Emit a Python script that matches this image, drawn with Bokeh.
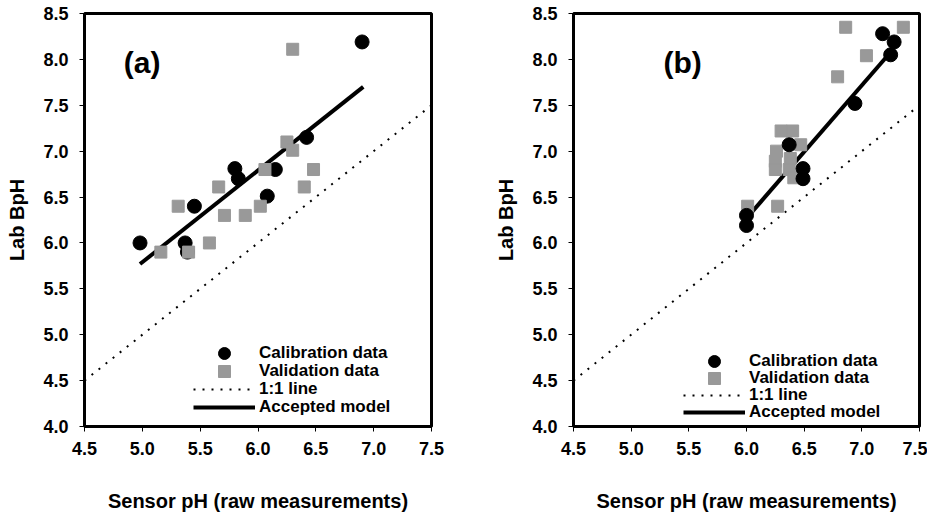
from bokeh.plotting import figure
from bokeh.layouts import row
from bokeh.models import FixedTicker, Legend, LegendItem, Label, Range1d, PrintfTickFormatter
from bokeh.embed import file_html
from bokeh.resources import INLINE

FONT = "Liberation Sans"

# ---- data ----
x_ticks = [4.5, 5.0, 5.5, 6.0, 6.5, 7.0, 7.5]
y_ticks = [4.0, 4.5, 5.0, 5.5, 6.0, 6.5, 7.0, 7.5, 8.0, 8.5]

one_x = [4.5, 7.5]
one_y = [4.5, 7.5]

# panel (a)
a_cal_x = [4.98, 5.37, 5.39, 5.45, 5.80, 5.83, 6.15, 6.08, 6.42, 6.90]
a_cal_y = [6.00, 6.00, 5.90, 6.40, 6.81, 6.70, 6.80, 6.51, 7.15, 8.19]
a_val_x = [5.16, 5.40, 5.31, 5.58, 5.66, 5.71, 5.89, 6.02, 6.06, 6.25, 6.30, 6.40, 6.48, 6.30]
a_val_y = [5.90, 5.90, 6.40, 6.00, 6.61, 6.30, 6.30, 6.40, 6.80, 7.10, 7.01, 6.61, 6.80, 8.11]
a_model_x = [4.98, 6.91]
a_model_y = [5.77, 7.70]

# panel (b)
b_cal_x = [6.00, 6.00, 6.37, 6.49, 6.49, 6.94, 7.18, 7.28, 7.25]
b_cal_y = [6.30, 6.19, 7.07, 6.81, 6.70, 7.52, 8.28, 8.19, 8.05]
b_val_x = [6.01, 6.27, 6.26, 6.25, 6.25, 6.30, 6.40, 6.38, 6.37, 6.41, 6.47, 6.79, 6.86, 7.04, 7.36]
b_val_y = [6.40, 6.40, 7.00, 6.89, 6.80, 7.22, 7.22, 6.92, 6.80, 6.71, 7.07, 7.81, 8.35, 8.04, 8.35]
b_model_x = [5.98, 7.23]
b_model_y = [6.24, 8.05]

labels = ["Calibration data", "Validation data", "1:1 line", "Accepted model"]
GRAY = "#999999"


def make_fig(width, bl, br, cal_x, cal_y, val_x, val_y, mx, my, tag, tag_x, leg_x, leg_ys, squares_on_top):
    p = figure(width=width, height=514, x_range=Range1d(4.5, 7.5), y_range=Range1d(4.0, 8.5),
               output_backend="svg", toolbar_location=None,
               min_border_left=bl, min_border_right=br, min_border_top=13, min_border_bottom=84)
    p.grid.visible = False
    p.outline_line_color = "black"
    p.outline_line_width = 3
    p.xaxis.ticker = FixedTicker(ticks=x_ticks)
    p.yaxis.ticker = FixedTicker(ticks=y_ticks)
    p.axis.formatter = PrintfTickFormatter(format="%.1f")
    p.axis.axis_line_width = 3
    p.axis.axis_line_color = "black"
    p.axis.major_tick_in = 0
    p.axis.major_tick_out = 5
    p.axis.major_tick_line_color = "black"
    p.axis.minor_tick_line_color = None
    p.axis.major_label_text_font = FONT
    p.axis.major_label_text_font_style = "bold"
    p.axis.major_label_text_font_size = "18px"
    p.axis.major_label_text_color = "black"
    p.axis.axis_label_text_font = FONT
    p.axis.axis_label_text_font_style = "bold"
    p.axis.axis_label_text_font_size = "20px"
    p.axis.axis_label_text_color = "black"
    p.xaxis.major_label_standoff = 10
    p.yaxis.major_label_standoff = 11
    p.xaxis.axis_label = "Sensor pH (raw measurements)"
    p.yaxis.axis_label = "Lab BpH"
    p.xaxis.axis_label_standoff = 32
    p.yaxis.axis_label_standoff = 12

    r_one = p.line(one_x, one_y, line_color="black", line_width=2, line_dash="2 7")
    r_mod = p.line(mx, my, line_color="black", line_width=4)
    if squares_on_top:
        r_cal = p.scatter(cal_x, cal_y, marker="circle", size=14, fill_color="black", line_color="black")
        r_val = p.scatter(val_x, val_y, marker="square", size=12, fill_color=GRAY, line_color=GRAY)
    else:
        r_val = p.scatter(val_x, val_y, marker="square", size=12, fill_color=GRAY, line_color=GRAY)
        r_cal = p.scatter(cal_x, cal_y, marker="circle", size=14, fill_color="black", line_color="black")

    rends = [r_cal, r_val, r_one, r_mod]
    for lab, rr, ly in zip(labels, rends, leg_ys):
        legend = Legend(items=[LegendItem(label=lab, renderers=[rr])],
                        location=(leg_x, ly), glyph_width=62, glyph_height=30,
                        padding=0, margin=0, label_standoff=4, border_line_alpha=0,
                        background_fill_alpha=0, label_text_font=FONT, label_text_font_style="bold",
                        label_text_font_size="17px", label_text_color="black", label_height=18)
        p.add_layout(legend)

    p.add_layout(Label(x=tag_x, y=7.97, text=tag, text_font=FONT, text_font_style="bold",
                       text_font_size="30px", text_color="black", text_baseline="alphabetic"))
    return p


pa = make_fig(466, 84, 35, a_cal_x, a_cal_y, a_val_x, a_val_y, a_model_x, a_model_y,
              "(a)", 4.84, 109, [57.7, 40, 22.3, 4], True)
pb = make_fig(461, 107, 8, b_cal_x, b_cal_y, b_val_x, b_val_y, b_model_x, b_model_y,
              "(b)", 5.28, 110, [50.5, 32.8, 16.2, -1], False)

layout = row(pa, pb)
open("out.html", "w").write(file_html(layout, INLINE))
